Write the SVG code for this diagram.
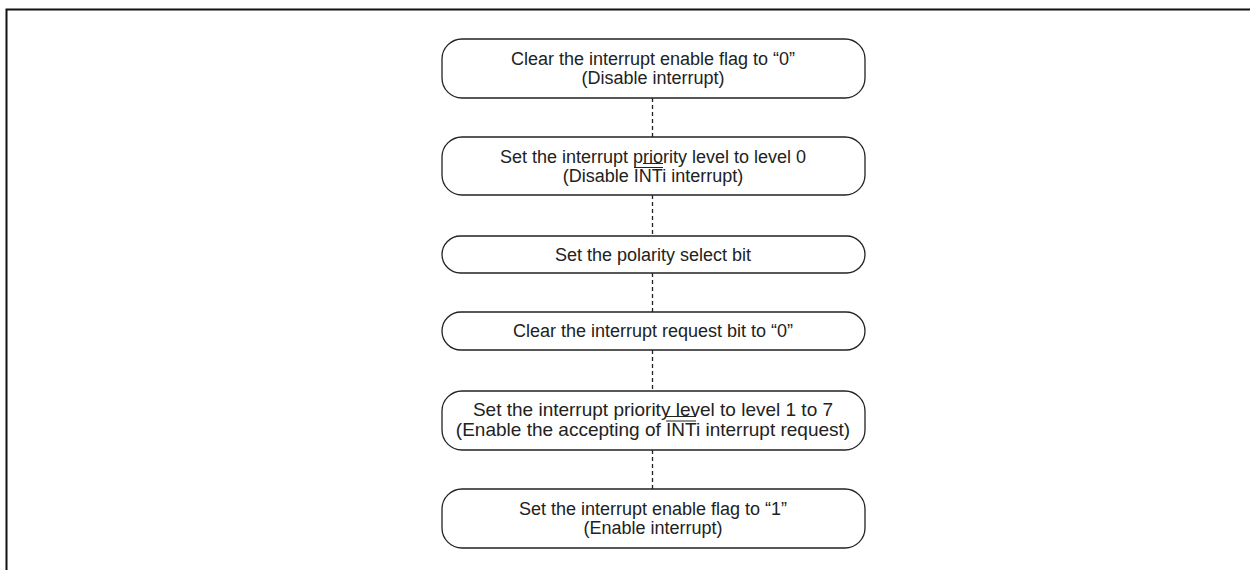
<svg xmlns="http://www.w3.org/2000/svg" width="1250" height="570" viewBox="0 0 1250 570">
<style>
.node{fill:#fff;stroke:#222;stroke-width:1.3}
.t{font-family:"Liberation Sans",Arial,sans-serif;font-size:18px;fill:#222;text-anchor:middle}
.big{font-size:19px}
.conn{stroke:#222;stroke-width:1.3;stroke-dasharray:4 3;fill:none}
.ol{stroke:#222;stroke-width:1}
</style>
<rect width="1250" height="570" fill="#fff"/>
<path d="M6.5,570 V9.5 H1250" fill="none" stroke="#111" stroke-width="2"/>
<g id="connectors">
<line class="conn" x1="652.5" y1="98" x2="652.5" y2="137"/>
<line class="conn" x1="652.5" y1="195" x2="652.5" y2="236"/>
<line class="conn" x1="652.5" y1="273" x2="652.5" y2="312"/>
<line class="conn" x1="652.5" y1="350" x2="652.5" y2="391"/>
<line class="conn" x1="652.5" y1="450" x2="652.5" y2="489"/>
</g>
<g id="n1">
<rect class="node" x="442" y="39" width="423" height="59" rx="20" ry="20"/>
<text class="t" x="653" y="65">Clear the interrupt enable flag to “0”</text>
<text class="t" x="653" y="84">(Disable interrupt)</text>
</g>
<g id="n2">
<rect class="node" x="442" y="137" width="423" height="58" rx="20" ry="20"/>
<text class="t" x="653" y="163">Set the interrupt priority level to level 0</text>
<text class="t" x="653" y="182">(Disable INTi interrupt)</text>
<line class="ol" x1="643" y1="163.5" x2="663" y2="163.5"/>
<line class="ol" x1="634" y1="167.5" x2="663" y2="167.5"/>
</g>
<g id="n3">
<rect class="node" x="442" y="236" width="423" height="37" rx="18.5" ry="18.5"/>
<text class="t" x="653" y="261">Set the polarity select bit</text>
</g>
<g id="n4">
<rect class="node" x="442" y="312" width="423" height="38" rx="19" ry="19"/>
<text class="t" x="653" y="337">Clear the interrupt request bit to “0”</text>
</g>
<g id="n5">
<rect class="node" x="442" y="391" width="423" height="59" rx="20" ry="20"/>
<text class="t big" x="653" y="416">Set the interrupt priority level to level 1 to 7</text>
<text class="t big" x="653" y="436">(Enable the accepting of INTi interrupt request)</text>
<line class="ol" x1="666" y1="416.5" x2="696" y2="416.5"/>
<line class="ol" x1="666" y1="421" x2="696" y2="421"/>
</g>
<g id="n6">
<rect class="node" x="442" y="489" width="423" height="59" rx="20" ry="20"/>
<text class="t" x="653" y="515">Set the interrupt enable flag to “1”</text>
<text class="t" x="653" y="534">(Enable interrupt)</text>
</g>
</svg>
